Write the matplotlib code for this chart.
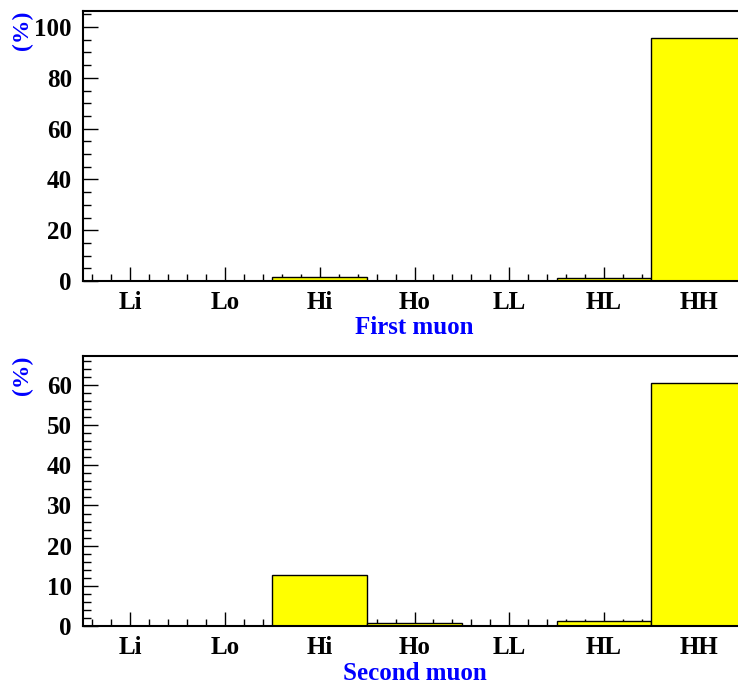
import matplotlib
matplotlib.use("Agg")
import matplotlib.pyplot as plt
import numpy as np
from matplotlib.ticker import MultipleLocator

categories = ["Li", "Lo", "Hi", "Ho", "LL", "HL", "HH"]
first_muon = [0.0, 0.0, 1.7, 0.0, 0.0, 1.1, 95.6]
second_muon = [0.0, 0.0, 12.6, 0.7, 0.0, 1.2, 60.4]

plt.rcParams["font.family"] = ["Liberation Serif", "DejaVu Serif"]
plt.rcParams["font.weight"] = "bold"

fig = plt.figure(figsize=(7.38, 6.84), dpi=100)

W, H = 738.0, 684.0
left_px, width_px = 83.0, 663.0
panels = [
    (first_muon, "First muon", 281.0, 106.3, 20, 5),
    (second_muon, "Second muon", 626.0, 67.2, 10, 2),
]

for values, title, bottom_px, ymax, major, minor in panels:
    ax = fig.add_axes([left_px / W, (H - bottom_px) / H, width_px / W, 270.0 / H])
    x = np.arange(len(categories))
    ax.bar(x, values, width=1.0, color="#ffff00", edgecolor="black",
           linewidth=1.0, zorder=2)
    ax.set_xlim(-0.5, len(categories) - 0.5)
    ax.set_ylim(0, ymax)
    ax.set_xticks(x)
    ax.set_xticklabels(categories)
    ax.xaxis.set_minor_locator(MultipleLocator(0.2))
    ax.yaxis.set_major_locator(MultipleLocator(major))
    ax.yaxis.set_minor_locator(MultipleLocator(minor))
    ax.tick_params(axis="both", which="both", direction="in", top=False,
                   right=False, labelsize=18, width=1.0, zorder=3)
    ax.tick_params(axis="y", which="major", length=11, pad=8)
    ax.tick_params(axis="y", which="minor", length=6)
    ax.tick_params(axis="x", which="major", length=10, pad=7)
    ax.tick_params(axis="x", which="minor", length=5)
    for lab in ax.get_xticklabels() + ax.get_yticklabels():
        lab.set_fontweight("bold")
    for side in ("left", "bottom", "top"):
        ax.spines[side].set_linewidth(1.5)
    ax.spines["right"].set_visible(False)
    ax.set_xlabel(title, color="#0000ff", fontsize=18, fontweight="bold",
                  labelpad=2)
    ax.set_ylabel("(%)", color="#0000ff", fontsize=17, fontweight="bold",
                  loc="top")
    ax.yaxis.set_label_coords(-0.075, 1.0)

fig.savefig("out.png", dpi=100)
